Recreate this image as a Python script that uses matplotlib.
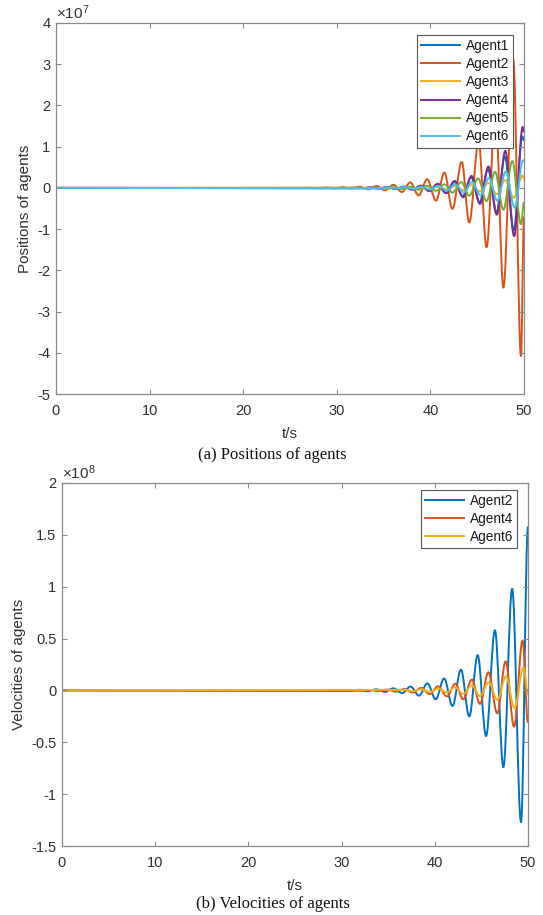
import matplotlib
matplotlib.use("Agg")
import matplotlib.pyplot as plt
from matplotlib.path import Path
from matplotlib.patches import PathPatch
from matplotlib.lines import Line2D
from matplotlib.ticker import FixedLocator, FuncFormatter

plt.rcParams['font.family'] = ['Liberation Sans', 'DejaVu Sans']
plt.rcParams['mathtext.fontset'] = 'custom'
plt.rcParams['mathtext.rm'] = 'Liberation Sans'
plt.rcParams['mathtext.it'] = 'Liberation Sans'

# ---------------- data (turning points) ----------------
POS_SCALE = 1e7
VEL_SCALE = 1e8

pos_labels = ["Agent1", "Agent2", "Agent3", "Agent4", "Agent5", "Agent6"]
vel_labels = ["Agent2", "Agent4", "Agent6"]

# positions (units of 1e7)
pos_a1_t = [0, 32.65, 33.55, 34.45, 35.35, 36.25, 37.15, 38.05, 38.95, 39.85, 40.75, 41.65, 42.55, 43.45,
            44.35, 45.25, 46.15, 47.05, 47.95, 48.9, 49.82, 50.0]
pos_a1_v = [0, -0.007, 0.009, -0.013, 0.016, -0.022, 0.028, -0.04, 0.05, -0.07, 0.09, -0.12, 0.15, -0.2,
            0.26, -0.35, 0.45, -0.6, 0.76, -1.03, 1.25, 1.15]

pos_a2_t = [0, 26.15, 27.05, 27.95, 28.85, 29.75, 30.65, 31.55, 32.45, 33.35, 34.25, 35.15, 36.05, 36.95,
            37.85, 38.75, 39.65, 40.6, 41.5, 42.35, 43.35, 44.15, 45.15, 46.0, 46.95, 47.8, 48.85, 49.68, 50.0]
pos_a2_v = [0, -0.003, 0.004, -0.006, 0.008, -0.01, 0.015, -0.02, 0.025, -0.035, 0.045, -0.06, 0.075, -0.10,
            0.13, -0.185, 0.21, -0.31, 0.37, -0.51, 0.63, -0.84, 1.12, -1.44, 1.85, -2.42, 3.12, -4.08, -0.70]

pos_a3_t = [0, 39.9, 40.8, 41.7, 42.6, 43.5, 44.4, 45.3, 46.2, 47.1, 48.0, 48.9, 49.85, 50.0]
pos_a3_v = [0, -0.018, 0.025, -0.03, 0.04, -0.05, 0.07, -0.09, 0.12, -0.15, 0.19, -0.24, 0.30, 0.22]

pos_a4_t = [0, 30.9, 31.8, 32.7, 33.6, 34.5, 35.4, 36.3, 37.2, 38.1, 39.0, 39.9, 40.8, 41.7, 42.6, 43.5,
            44.4, 45.3, 46.2, 47.1, 48.0, 48.95, 49.86, 50.0]
pos_a4_v = [0, -0.004, 0.006, -0.008, 0.01, -0.014, 0.017, -0.024, 0.03, -0.042, 0.055, -0.075, 0.10, -0.13,
            0.17, -0.23, 0.29, -0.39, 0.52, -0.65, 0.90, -1.17, 1.48, 1.35]

pos_a5_t = [0, 32.45, 33.35, 34.25, 35.15, 36.05, 36.95, 37.85, 38.75, 39.65, 40.6, 41.5, 42.35, 43.3,
            44.15, 45.1, 46.0, 46.9, 47.8, 48.75, 49.68, 50.0]
pos_a5_v = [0, 0.006, -0.009, 0.011, -0.015, 0.018, -0.025, 0.03, -0.042, 0.05, -0.07, 0.085, -0.115, 0.14,
            -0.19, 0.23, -0.32, 0.39, -0.53, 0.65, -0.88, -0.35]

pos_a6_t = [0, 34.55, 35.45, 36.35, 37.25, 38.15, 39.05, 39.95, 40.85, 41.75, 42.65, 43.55, 44.45, 45.35,
            46.25, 47.15, 48.05, 49.0, 49.9, 50.0]
pos_a6_v = [0, -0.008, 0.01, -0.014, 0.018, -0.023, 0.03, -0.04, 0.05, -0.065, 0.085, -0.11, 0.14, -0.18,
            0.24, -0.31, 0.40, -0.48, 0.67, 0.64]

# velocities (units of 1e8)
vel_a2_t = [0, 31.0, 31.9, 32.8, 33.7, 34.65, 35.55, 36.5, 37.4, 38.3, 39.2, 40.1, 41.0, 41.9, 42.8, 43.7,
            44.6, 45.5, 46.45, 47.36, 48.3, 49.25, 50.0]
vel_a2_v = [0, -0.004, 0.006, -0.008, 0.011, -0.014, 0.02, -0.025, 0.037, -0.05, 0.068, -0.085, 0.115, -0.15,
            0.2, -0.25, 0.34, -0.44, 0.58, -0.74, 0.98, -1.27, 1.58]

vel_a4_t = [0, 32.1, 33.05, 33.95, 34.9, 35.8, 36.7, 37.6, 38.55, 39.45, 40.35, 41.3, 42.2, 43.05, 43.97,
            44.85, 45.75, 46.7, 47.6, 48.5, 49.42, 50.0]
vel_a4_v = [0, -0.004, 0.005, -0.007, 0.008, -0.012, 0.014, -0.02, 0.024, -0.035, 0.04, -0.058, 0.065, -0.085,
            0.105, -0.13, 0.175, -0.22, 0.28, -0.35, 0.48, -0.31]

vel_a6_t = [0, 36.7, 37.6, 38.55, 39.45, 40.4, 41.25, 42.2, 43.05, 44.0, 44.85, 45.8, 46.7, 47.65, 48.55,
            49.52, 50.0]
vel_a6_v = [0, 0.006, -0.007, 0.011, -0.012, 0.018, -0.02, 0.03, -0.033, 0.048, -0.055, 0.08, -0.09, 0.135,
            -0.17, 0.22, -0.04]

x_ticks = [0, 10, 20, 30, 40, 50]
pos_ticks = [-5, -4, -3, -2, -1, 0, 1, 2, 3, 4]
vel_ticks = [-1.5, -1, -0.5, 0, 0.5, 1, 1.5, 2]

C_BLUE, C_ORANGE, C_YELLOW = '#0072BD', '#D95319', '#EDB120'
C_PURPLE, C_GREEN, C_CYAN = '#7E2F8E', '#77AC30', '#4DBEEE'

# ---------------- drawing ----------------
W, H = 543, 915
fig = plt.figure(figsize=(W / 100, H / 100), dpi=100)

def fig_axes(l, r, t, b):
    return fig.add_axes([l / W, (H - b) / H, (r - l) / W, (b - t) / H])

ax1 = fig_axes(56, 524, 23, 394)
ax2 = fig_axes(62, 528, 483, 846)

LW = 1.4

def wave(ax, ts, vs, scale, color):
    k = 0.3642
    verts = [(ts[0], vs[0] * scale)]
    codes = [Path.MOVETO]
    for t0, v0, t1, v1 in zip(ts[:-1], vs[:-1], ts[1:], vs[1:]):
        dt = t1 - t0
        verts += [(t0 + k * dt, v0 * scale), (t1 - k * dt, v1 * scale), (t1, v1 * scale)]
        codes += [Path.CURVE4] * 3
    patch = PathPatch(Path(verts, codes), fill=False, edgecolor=color, lw=LW,
                      transform=ax.transData, joinstyle='round', capstyle='butt')
    ax.add_patch(patch)
    return Line2D([], [], color=color, lw=LW)

SPINE = '#8a8a8a'
TXT = '#303030'

def style(ax, yticks, scale, ylim, exponent, ylabel, xpad):
    ax.set_xlim(0, 50)
    ax.set_ylim(ylim[0] * scale, ylim[1] * scale)
    ax.xaxis.set_major_locator(FixedLocator(x_ticks))
    ax.yaxis.set_major_locator(FixedLocator([v * scale for v in yticks]))
    ax.yaxis.set_major_formatter(FuncFormatter(lambda v, p: f"{v / scale:g}"))
    ax.xaxis.set_major_formatter(FuncFormatter(lambda v, p: f"{v:g}"))
    ax.tick_params(direction='in', length=3.5, width=0.8, color=SPINE, labelcolor=TXT,
                   labelsize=10.5, top=True, right=True)
    ax.tick_params(axis='x', pad=7)
    ax.tick_params(axis='y', pad=4)
    for s in ax.spines.values():
        s.set_color(SPINE)
        s.set_linewidth(0.9)
    ax.set_xlabel('t/s', fontsize=11, color=TXT, labelpad=6.5)
    ax.set_ylabel(ylabel, fontsize=11, color=TXT, labelpad=xpad)
    ax.text(0.0, 1.003, r'$\times$10$^{%d}$' % exponent, transform=ax.transAxes,
            ha='left', va='bottom', fontsize=11, color=TXT)

pos_series = [(pos_a1_t, pos_a1_v, C_BLUE), (pos_a2_t, pos_a2_v, C_ORANGE), (pos_a3_t, pos_a3_v, C_YELLOW),
              (pos_a4_t, pos_a4_v, C_PURPLE), (pos_a5_t, pos_a5_v, C_GREEN), (pos_a6_t, pos_a6_v, C_CYAN)]
h1 = [wave(ax1, t, v, POS_SCALE, c) for t, v, c in pos_series]
style(ax1, pos_ticks, POS_SCALE, (-5, 4), 7, 'Positions of agents', 4)

vel_series = [(vel_a2_t, vel_a2_v, C_BLUE), (vel_a4_t, vel_a4_v, C_ORANGE), (vel_a6_t, vel_a6_v, C_YELLOW)]
h2 = [wave(ax2, t, v, VEL_SCALE, c) for t, v, c in vel_series]
style(ax2, vel_ticks, VEL_SCALE, (-1.5, 2), 8, 'Velocities of agents', 4)

leg_kw = dict(fontsize=9.8, handlelength=2.9, handletextpad=0.4, labelspacing=0.3,
              borderpad=0.3, borderaxespad=0, fancybox=False, framealpha=1)
lg1 = ax1.legend(h1, pos_labels, loc='upper right',
                 bbox_to_anchor=(1 - 11 / 468, 1 - 12 / 371), **leg_kw)
lg2 = ax2.legend(h2, vel_labels, loc='upper right',
                 bbox_to_anchor=(1 - 11 / 466, 1 - 7 / 363), **leg_kw)
for lg in (lg1, lg2):
    lg.get_frame().set_edgecolor('#555555')
    lg.get_frame().set_linewidth(0.8)
    for t in lg.get_texts():
        t.set_color('#1a1a1a')

fig.text(272 / W, 1 - 455 / H, '(a) Positions of agents', ha='center', va='center',
         fontsize=12, family='Liberation Serif', color='#111111')
fig.text(273 / W, 1 - 904 / H, '(b) Velocities of agents', ha='center', va='center',
         fontsize=12, family='Liberation Serif', color='#111111')

fig.savefig('out.png', dpi=100, facecolor='white')
